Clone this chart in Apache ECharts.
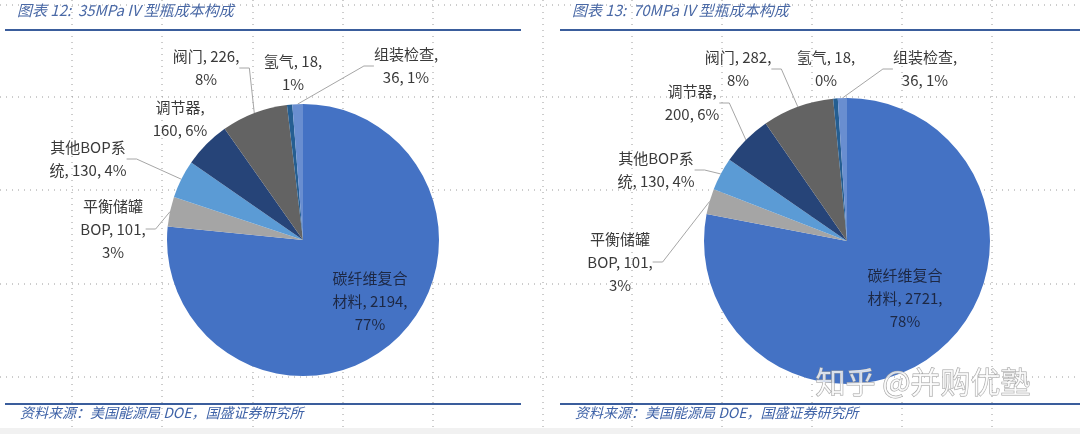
<!DOCTYPE html>
<html>
<head>
<meta charset="utf-8">
<script src="https://cdn.jsdelivr.net/npm/echarts@6/dist/echarts.min.js"></script>
<style>
html,body{margin:0;padding:0;background:#fff;}
#c{width:1080px;height:434px;}
</style>
</head>
<body>
<div id="c"></div>
<script>
// ---- data ----
const categories = ['碳纤维复合材料', '平衡储罐BOP', '其他BOP系统', '调节器', '阀门', '氢气', '组装检查'];
const values35 = [2194, 101, 130, 160, 226, 18, 36];
const values70 = [2721, 101, 130, 200, 282, 18, 36];
const pct35 = [77, 3, 4, 6, 8, 1, 1];
const pct70 = [78, 3, 4, 6, 8, 0, 1];
const title35 = '图表 12:  35MPa IV 型瓶成本构成';
const title70 = '图表 13:  70MPa IV 型瓶成本构成';
const sourceText = '资料来源：美国能源局 DOE，国盛证券研究所';

// ---- styling / layout config ----
const colors = ['#4472C4', '#A5A5A5', '#5B9BD5', '#264478', '#636363', '#255E91', '#698ED0'];
const lineCuts35 = [[5, 9], [4, 9], [6], [4], [8], [7], [5]];
const lineCuts70 = [[5, 9], [4, 9], [6], [4], [8], [7], [5]];
const labelPos35 = [[370, 301], [113, 229], [88, 159], [180, 119], [206, 68], [293, 73], [406, 66]];
const labelPos70 = [[905, 298], [620, 262], [656, 170], [692, 103], [738, 69], [826, 69], [925, 69]];
const showLine35 = [false, true, true, false, true, false, true];
const showLine70 = [false, true, true, true, true, false, true];

function wrap(text, cuts) {
  const out = []; let i = 0;
  for (const c of cuts) { out.push(text.slice(i, i + c).trim()); i += c; }
  out.push(text.slice(i).trim());
  return out.join('\n');
}
function buildData(values, pct, cuts, showLine) {
  return categories.map((name, i) => ({
    name: name,
    value: values[i],
    itemStyle: { color: colors[i] },
    label: {
      formatter: wrap(name + ', ' + values[i] + ', ' + pct[i] + '%', cuts[i]),
      color: i === 0 ? '#1d2844' : '#3a3a3a'
    },
    labelLine: { show: showLine[i] }
  }));
}

const labelStyle = {
  show: true,
  position: 'outside',
  fontFamily: 'Noto Sans CJK SC',
  fontSize: 15,
  lineHeight: 23,
  align: 'center',
  color: '#3a3a3a'
};
const labelLineStyle = { show: true, length: 10, length2: 10, lineStyle: { color: '#a6a6a6', width: 1 } };

function pieSeries(center, radius, data, pos) {
  return {
    type: 'pie',
    center: center,
    radius: radius,
    startAngle: 90,
    clockwise: true,
    avoidLabelOverlap: false,
    silent: true,
    animation: false,
    itemStyle: { borderWidth: 0 },
    label: labelStyle,
    labelLine: labelLineStyle,
    labelLayout: function (p) {
      const q = pos[p.dataIndex];
      return { x: q[0], y: q[1], align: 'center', verticalAlign: 'middle' };
    },
    data: data
  };
}

// decorative dotted grid of the scanned page
const gridX = [72, 162, 253, 343, 433, 543, 632, 722, 812, 902, 992];
const gridY = [5, 97, 190, 284, 377];
const graphics = [];
gridX.forEach(x => graphics.push({ type: 'line', z: -10, shape: { x1: x, y1: 0, x2: x, y2: 428 }, style: { stroke: '#9a9a9a', lineWidth: 1, lineDash: [1, 5] } }));
gridY.forEach(y => graphics.push({ type: 'line', z: -10, shape: { x1: 0, y1: y, x2: 1080, y2: y }, style: { stroke: '#9a9a9a', lineWidth: 1, lineDash: [1, 5] } }));
graphics.push({ type: 'rect', z: -5, shape: { x: 0, y: 428, width: 1080, height: 6 }, style: { fill: '#f1f1f1' } });
[[5, 521], [560, 1080]].forEach(([a, b]) => {
  graphics.push({ type: 'line', z: 10, shape: { x1: a, y1: 30, x2: b, y2: 30 }, style: { stroke: '#3a5d9c', lineWidth: 2 } });
  graphics.push({ type: 'line', z: 10, shape: { x1: a, y1: 404, x2: b, y2: 404 }, style: { stroke: '#3a5d9c', lineWidth: 2 } });
});
const titleFont = { fontFamily: 'Noto Sans CJK SC', fontSize: 15, fontStyle: 'italic', fill: '#4a69a6' };
graphics.push({ type: 'text', z: 10, left: 17, top: 3, style: Object.assign({ text: title35 }, titleFont) });
graphics.push({ type: 'text', z: 10, left: 572, top: 3, style: Object.assign({ text: title70 }, titleFont) });
const srcFont = { fontFamily: 'Noto Sans CJK SC', fontSize: 14, fontStyle: 'italic', fill: '#3f63a8' };
graphics.push({ type: 'text', z: 10, left: 20, top: 406, style: Object.assign({ text: sourceText }, srcFont) });
graphics.push({ type: 'text', z: 10, left: 575, top: 406, style: Object.assign({ text: sourceText }, srcFont) });
graphics.push({ type: 'text', z: 20, left: 815, top: 366, style: { text: '知乎 @并购优塾', fontFamily: 'Noto Sans CJK SC', fontSize: 30, fill: 'rgba(255,255,255,0.75)', stroke: '#a0a0a0', lineWidth: 1 } });

const chart = echarts.init(document.getElementById('c'), null, { renderer: 'canvas' });
chart.setOption({
  backgroundColor: '#ffffff',
  animation: false,
  graphic: graphics,
  series: [
    pieSeries([303, 240], 136, buildData(values35, pct35, lineCuts35, showLine35), labelPos35),
    pieSeries([847, 241], 143, buildData(values70, pct70, lineCuts70, showLine70), labelPos70)
  ]
});
</script>
</body>
</html>
